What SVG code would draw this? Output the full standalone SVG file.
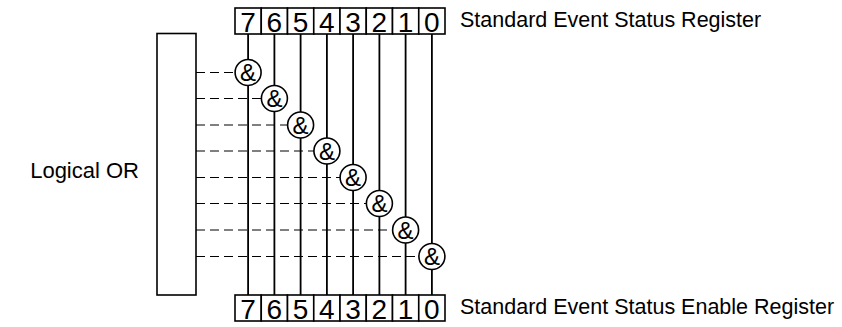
<svg xmlns="http://www.w3.org/2000/svg" width="842" height="327" viewBox="0 0 842 327">
<style>
.box{fill:#fff;stroke:#000;stroke-width:1.6}
.cell{fill:#fff;stroke:#000;stroke-width:1.6}
.dig{font-family:"Liberation Sans",Arial,sans-serif;font-size:28px;text-anchor:middle;fill:#000}
.lbl{font-family:"Liberation Sans",Arial,sans-serif;font-size:21.5px;fill:#000}
.amp{font-family:"Liberation Sans",Arial,sans-serif;font-size:24px;text-anchor:middle;fill:#000}
.vl{stroke:#000;stroke-width:1.8;fill:none}
.dl{stroke:#000;stroke-width:1;stroke-dasharray:9 5;fill:none}
.gate{fill:#fff;stroke:#000;stroke-width:1.6}
</style>
<rect width="842" height="327" fill="#fff"/>
<g id="logical-or">
<rect class="box" x="157" y="33.5" width="39" height="261.5"/>
<text class="lbl" x="139" y="178" text-anchor="end" style="font-size:22px">Logical OR</text>
</g>
<g id="connectors">
<line class="vl" x1="248.1" y1="34" x2="248.1" y2="295"/>
<line class="vl" x1="274.4" y1="34" x2="274.4" y2="295"/>
<line class="vl" x1="300.6" y1="34" x2="300.6" y2="295"/>
<line class="vl" x1="326.9" y1="34" x2="326.9" y2="295"/>
<line class="vl" x1="353.1" y1="34" x2="353.1" y2="295"/>
<line class="vl" x1="379.4" y1="34" x2="379.4" y2="295"/>
<line class="vl" x1="405.6" y1="34" x2="405.6" y2="295"/>
<line class="vl" x1="431.9" y1="34" x2="431.9" y2="295"/>
<line class="dl" x1="196" y1="72.5" x2="235" y2="72.5"/>
<line class="dl" x1="196" y1="98.5" x2="261.5" y2="98.5"/>
<line class="dl" x1="196" y1="125" x2="287.7" y2="125"/>
<line class="dl" x1="196" y1="151" x2="314" y2="151"/>
<line class="dl" x1="196" y1="177.5" x2="340.2" y2="177.5"/>
<line class="dl" x1="196" y1="203.5" x2="366.5" y2="203.5"/>
<line class="dl" x1="196" y1="230" x2="392.7" y2="230"/>
<line class="dl" x1="196" y1="256.5" x2="419" y2="256.5"/>
</g>
<g id="gates">
<g id="gate7"><circle class="gate" cx="248.1" cy="72.5" r="13"/><text class="amp" x="248.1" y="81">&amp;</text></g>
<g id="gate6"><circle class="gate" cx="274.4" cy="98.5" r="13"/><text class="amp" x="274.4" y="107">&amp;</text></g>
<g id="gate5"><circle class="gate" cx="300.6" cy="125" r="13"/><text class="amp" x="300.6" y="133.5">&amp;</text></g>
<g id="gate4"><circle class="gate" cx="326.9" cy="151" r="13"/><text class="amp" x="326.9" y="159.5">&amp;</text></g>
<g id="gate3"><circle class="gate" cx="353.1" cy="177.5" r="13"/><text class="amp" x="353.1" y="186">&amp;</text></g>
<g id="gate2"><circle class="gate" cx="379.4" cy="203.5" r="13"/><text class="amp" x="379.4" y="212">&amp;</text></g>
<g id="gate1"><circle class="gate" cx="405.6" cy="230" r="13"/><text class="amp" x="405.6" y="238.5">&amp;</text></g>
<g id="gate0"><circle class="gate" cx="431.9" cy="256.5" r="13"/><text class="amp" x="431.9" y="265">&amp;</text></g>
</g>
<g id="ses-register">
<rect class="cell" x="235" y="8" width="26.25" height="26"/>
<rect class="cell" x="261.25" y="8" width="26.25" height="26"/>
<rect class="cell" x="287.5" y="8" width="26.25" height="26"/>
<rect class="cell" x="313.75" y="8" width="26.25" height="26"/>
<rect class="cell" x="340" y="8" width="26.25" height="26"/>
<rect class="cell" x="366.25" y="8" width="26.25" height="26"/>
<rect class="cell" x="392.5" y="8" width="26.25" height="26"/>
<rect class="cell" x="418.75" y="8" width="26.25" height="26"/>
<text class="dig" x="248.1" y="31.5">7</text>
<text class="dig" x="274.4" y="31.5">6</text>
<text class="dig" x="300.6" y="31.5">5</text>
<text class="dig" x="326.9" y="31.5">4</text>
<text class="dig" x="353.1" y="31.5">3</text>
<text class="dig" x="379.4" y="31.5">2</text>
<text class="dig" x="405.6" y="31.5">1</text>
<text class="dig" x="431.9" y="31.5">0</text>
<text class="lbl" x="460" y="27">Standard Event Status Register</text>
</g>
<g id="sese-register">
<rect class="cell" x="235" y="295" width="26.25" height="26"/>
<rect class="cell" x="261.25" y="295" width="26.25" height="26"/>
<rect class="cell" x="287.5" y="295" width="26.25" height="26"/>
<rect class="cell" x="313.75" y="295" width="26.25" height="26"/>
<rect class="cell" x="340" y="295" width="26.25" height="26"/>
<rect class="cell" x="366.25" y="295" width="26.25" height="26"/>
<rect class="cell" x="392.5" y="295" width="26.25" height="26"/>
<rect class="cell" x="418.75" y="295" width="26.25" height="26"/>
<text class="dig" x="248.1" y="318.5">7</text>
<text class="dig" x="274.4" y="318.5">6</text>
<text class="dig" x="300.6" y="318.5">5</text>
<text class="dig" x="326.9" y="318.5">4</text>
<text class="dig" x="353.1" y="318.5">3</text>
<text class="dig" x="379.4" y="318.5">2</text>
<text class="dig" x="405.6" y="318.5">1</text>
<text class="dig" x="431.9" y="318.5">0</text>
<text class="lbl" x="460" y="314">Standard Event Status Enable Register</text>
</g>
</svg>
